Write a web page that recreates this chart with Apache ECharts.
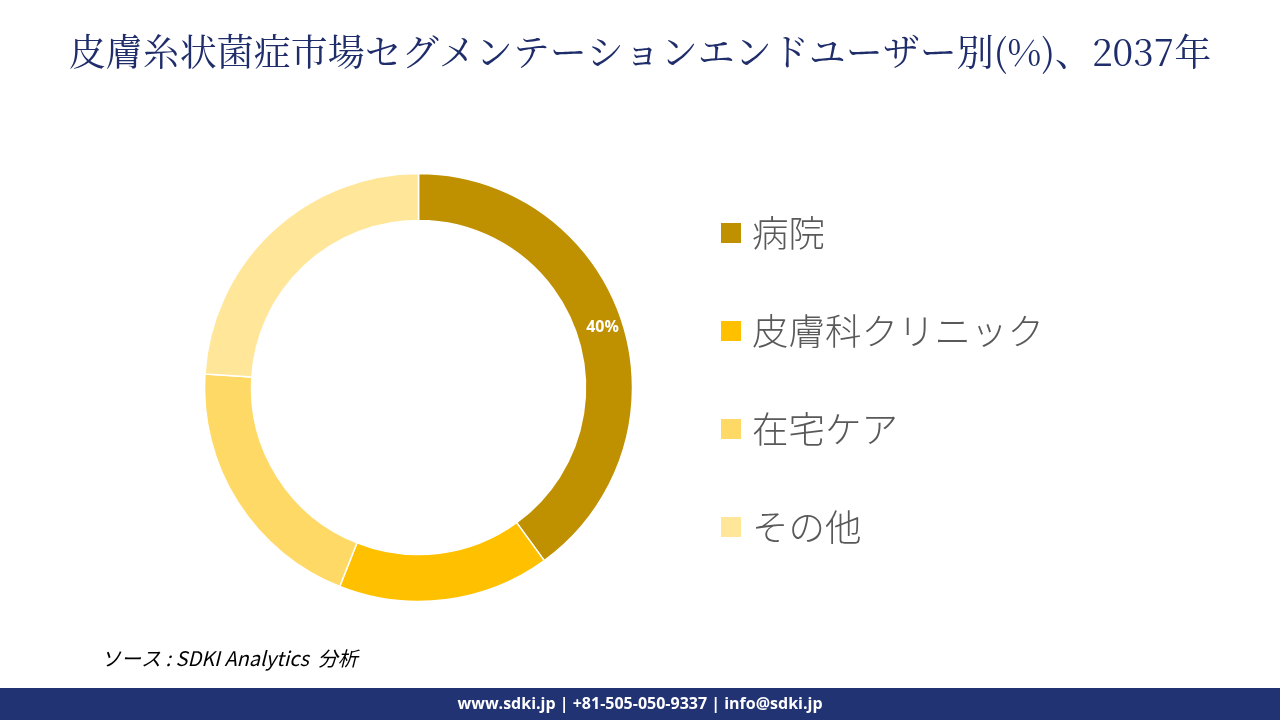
<!DOCTYPE html>
<html>
<head>
<meta charset="utf-8">
<style>
html,body{margin:0;padding:0;background:#fff;}
#main{width:1280px;height:720px;}
</style>
<script src="https://cdn.jsdelivr.net/npm/echarts@6/dist/echarts.min.js"></script>
</head>
<body>
<div id="main"></div>
<script>
const titleText = '皮膚糸状菌症市場セグメンテーションエンドユーザー別(%)、2037年';
const categories = ['病院', '皮膚科クリニック', '在宅ケア', 'その他'];
const values = [40, 16, 20, 24];
const colors = ['#BF9000', '#FFC000', '#FFD966', '#FFE699'];
const sourceText = 'ソース : SDKI Analytics  分析';
const footerText = 'www.sdki.jp | +81-505-050-9337 | info@sdki.jp';

const chart = echarts.init(document.getElementById('main'));
chart.setOption({
  backgroundColor: '#ffffff',
  animation: false,
  title: {
    text: titleText,
    left: 'center',
    top: 28,
    textStyle: {
      fontFamily: '"Noto Serif CJK JP","Noto Sans CJK JP",serif',
      fontSize: 37,
      fontWeight: 'normal',
      color: '#1F2D6B'
    }
  },
  legend: {
    orient: 'vertical',
    left: 714,
    top: 207,
    icon: 'rect',
    itemWidth: 22,
    itemHeight: 22,
    itemGap: 56,
    data: categories,
    textStyle: {
      fontFamily: '"Noto Sans CJK JP",sans-serif',
      fontSize: 36.5,
      fontWeight: 300,
      color: '#595959',
      lineHeight: 42,
      padding: [0, 0, 0, 5]
    },
    selectedMode: false
  },
  graphic: [
    {
      type: 'rect',
      shape: { x: 0, y: 688, width: 1280, height: 32 },
      style: { fill: '#213372' }
    },
    {
      type: 'text',
      x: 640, y: 704,
      style: {
        text: footerText,
        fill: '#ffffff',
        font: 'bold 16px "Open Sans", sans-serif',
        textAlign: 'center',
        textVerticalAlign: 'middle'
      }
    },
    {
      type: 'text',
      x: 101, y: 658,
      style: {
        text: sourceText,
        fill: '#000000',
        font: 'italic 20px "Noto Sans CJK JP", sans-serif',
        textAlign: 'left',
        textVerticalAlign: 'middle'
      }
    }
  ],
  series: [{
    type: 'pie',
    center: [418.5, 387.5],
    radius: [167, 214],
    startAngle: 90,
    clockwise: true,
    avoidLabelOverlap: false,
    itemStyle: { borderColor: '#ffffff', borderWidth: 1.5 },
    label: {
      show: true,
      position: 'inside',
      color: '#ffffff',
      fontWeight: 'bold',
      fontSize: 16,
      fontFamily: '"Open Sans", sans-serif',
      formatter: function (p) { return p.dataIndex === 0 ? p.value + '%' : ''; }
    },
    labelLine: { show: false },
    emphasis: { disabled: true },
    data: categories.map((c, i) => ({ name: c, value: values[i], itemStyle: { color: colors[i] } }))
  }]
});
</script>
</body>
</html>
